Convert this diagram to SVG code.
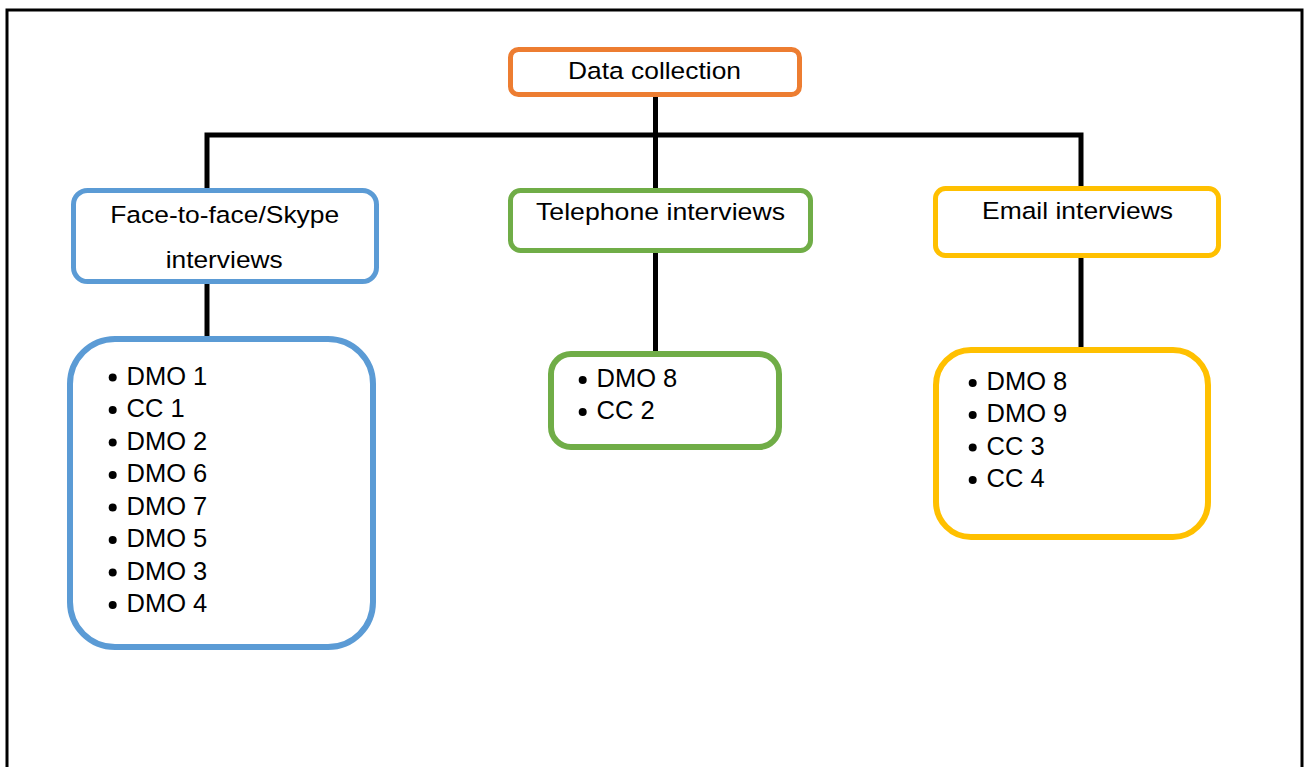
<svg xmlns="http://www.w3.org/2000/svg" width="1304" height="767" viewBox="0 0 1304 767">
<style>
  .t { font-family: "Liberation Sans", Arial, sans-serif; fill: #000; }
  .h { font-size: 24.5px; text-anchor: middle; }
  .i { font-size: 25.5px; }
  .box { fill: #fff; stroke-width: 5; }
  .lst { fill: #fff; stroke-width: 6; }
  .conn { fill: none; stroke: #000; stroke-width: 5; }
</style>
<rect x="0" y="0" width="1304" height="767" fill="#fff"/>
<path d="M7 767 V10 H1302 V767" fill="none" stroke="#000" stroke-width="3"/>
<g id="connectors">
  <path class="conn" d="M207 190 V135 H1081 V190"/>
  <path class="conn" d="M655.5 95 V190"/>
  <path class="conn" d="M207 282 V340"/>
  <path class="conn" d="M655.5 251 V354"/>
  <path class="conn" d="M1081 256 V350"/>
</g>
<g id="data-collection">
  <rect class="box" x="510.5" y="49.5" width="289" height="45" rx="8" stroke="#ED7D31"/>
  <text class="t h" x="654.5" y="79" textLength="173" lengthAdjust="spacingAndGlyphs">Data collection</text>
</g>
<g id="face-to-face">
  <rect class="box" x="73.5" y="190.5" width="303" height="91" rx="14" stroke="#5B9BD5"/>
  <text class="t h" x="224.7" y="223" textLength="229" lengthAdjust="spacingAndGlyphs">Face-to-face/Skype</text>
  <text class="t h" x="224.2" y="268" textLength="117" lengthAdjust="spacingAndGlyphs">interviews</text>
</g>
<g id="telephone">
  <rect class="box" x="510.5" y="190.5" width="300" height="60" rx="10" stroke="#70AD47"/>
  <text class="t h" x="660.5" y="220" textLength="249" lengthAdjust="spacingAndGlyphs">Telephone interviews</text>
</g>
<g id="email">
  <rect class="box" x="935.5" y="188.5" width="283" height="67" rx="10" stroke="#FFC000"/>
  <text class="t h" x="1077.5" y="219" textLength="191" lengthAdjust="spacingAndGlyphs">Email interviews</text>
</g>
<g id="f2f-list">
  <rect class="lst" x="70" y="339" width="303" height="308" rx="45" stroke="#5B9BD5"/>
  <g fill="#000">
    <circle cx="112.7" cy="377.5" r="4"/>
    <circle cx="112.7" cy="410" r="4"/>
    <circle cx="112.7" cy="442.5" r="4"/>
    <circle cx="112.7" cy="475" r="4"/>
    <circle cx="112.7" cy="507.5" r="4"/>
    <circle cx="112.7" cy="540" r="4"/>
    <circle cx="112.7" cy="572.5" r="4"/>
    <circle cx="112.7" cy="605" r="4"/>
  </g>
  <text class="t i" x="126.5" y="384.5">DMO 1</text>
  <text class="t i" x="126.5" y="417">CC 1</text>
  <text class="t i" x="126.5" y="449.5">DMO 2</text>
  <text class="t i" x="126.5" y="482">DMO 6</text>
  <text class="t i" x="126.5" y="514.5">DMO 7</text>
  <text class="t i" x="126.5" y="547">DMO 5</text>
  <text class="t i" x="126.5" y="579.5">DMO 3</text>
  <text class="t i" x="126.5" y="612">DMO 4</text>
</g>
<g id="telephone-list">
  <rect class="lst" x="551" y="354" width="228" height="93" rx="20" stroke="#70AD47"/>
  <g fill="#000">
    <circle cx="582.7" cy="380" r="4"/>
    <circle cx="582.7" cy="412" r="4"/>
  </g>
  <text class="t i" x="596.5" y="387">DMO 8</text>
  <text class="t i" x="596.5" y="419">CC 2</text>
</g>
<g id="email-list">
  <rect class="lst" x="936" y="350" width="272" height="187" rx="35" stroke="#FFC000"/>
  <g fill="#000">
    <circle cx="972.7" cy="383" r="4"/>
    <circle cx="972.7" cy="415" r="4"/>
    <circle cx="972.7" cy="447.5" r="4"/>
    <circle cx="972.7" cy="480" r="4"/>
  </g>
  <text class="t i" x="986.5" y="390">DMO 8</text>
  <text class="t i" x="986.5" y="422">DMO 9</text>
  <text class="t i" x="986.5" y="454.5">CC 3</text>
  <text class="t i" x="986.5" y="487">CC 4</text>
</g>
</svg>
